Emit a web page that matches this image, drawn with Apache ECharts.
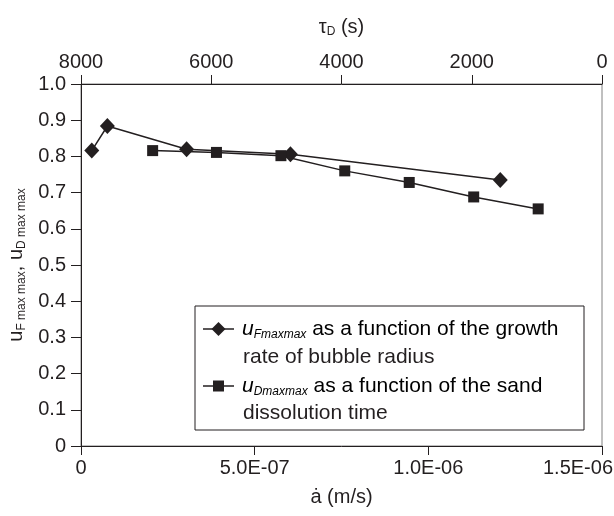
<!DOCTYPE html>
<html>
<head>
<meta charset="utf-8">
<script src="https://cdn.jsdelivr.net/npm/echarts@6/dist/echarts.min.js"></script>
<style>
  html, body { margin: 0; padding: 0; background: #fff; }
  #chart-container { width: 614px; height: 516px; }
</style>
</head>
<body>
<div id="chart-container"></div>
<script>
// growth rate of bubble radius (m/s) -> u_Fmaxmax
const growthRate = [3.1e-8, 7.6e-8, 3.04e-7, 6.03e-7, 1.207e-6];
const uFmaxmax = [0.816, 0.884, 0.820, 0.806, 0.735];

// sand dissolution time tau_D (s) -> u_Dmaxmax
const dissolutionTime = [6900, 5920, 4930, 3950, 2960, 1970, 980];
const uDmaxmax = [0.816, 0.811, 0.802, 0.760, 0.728, 0.688, 0.655];

const legendLines = [
  ['Fmaxmax', ' as a function of the growth', 'rate of bubble radius'],
  ['Dmaxmax', ' as a function of the sand', 'dissolution time']
];

const ink = '#231f20';
const font = 'Liberation Sans, Arial, sans-serif';

function sci(v) {
  if (Math.abs(v) < 1e-12) return '0';
  const parts = v.toExponential(1).split('e');
  const n = parseInt(parts[1], 10);
  const s = parts[0] + 'E' + (n < 0 ? '-' : '+') + String(Math.abs(n)).padStart(2, '0');
  // last label is pulled inside the chart like the original
  return v > 1.4e-6 ? '{last|' + s + '}' : s;
}

const labelStyle = { fontSize: 20, color: ink, fontFamily: font };
const lineStyle = { color: ink, width: 1 };

const dom = document.getElementById('chart-container');
const myChart = echarts.init(dom, null, { renderer: 'canvas' });

const richName = {
  b: { fontSize: 20, color: ink, fontFamily: font },
  s: { fontSize: 12, color: ink, fontFamily: font, padding: [10, 0, 0, 0] },
  i: { fontSize: 21, color: ink, fontFamily: font, fontStyle: 'italic' },
  t: { fontSize: 21, color: ink, fontFamily: font },
  si: { fontSize: 12, color: ink, fontFamily: font, fontStyle: 'italic', padding: [12, 0, 0, 0] }
};

// legend drawn as a boxed block
const boxX = 195, boxY = 306, boxW = 389, boxH = 124;
const rowY = [329, 357, 386, 413];
const legendGraphic = [
  { type: 'rect', shape: { x: boxX, y: boxY, width: boxW, height: boxH },
    style: { fill: '#fff', stroke: ink, lineWidth: 1 }, z: 10 }
];
legendLines.forEach(function (l, k) {
  const y1 = rowY[k * 2], y2 = rowY[k * 2 + 1];
  legendGraphic.push({ type: 'line', shape: { x1: 203, y1: y1, x2: 234, y2: y1 },
    style: { stroke: ink, lineWidth: 1.5 }, z: 11 });
  if (k === 0) {
    legendGraphic.push({ type: 'polygon', shape: { points: [[218.5, y1 - 7], [225.5, y1], [218.5, y1 + 7], [211.5, y1]] },
      style: { fill: ink }, z: 12 });
  } else {
    legendGraphic.push({ type: 'rect', shape: { x: 213, y: y1 - 5.5, width: 11, height: 11 },
      style: { fill: ink }, z: 12 });
  }
  legendGraphic.push({ type: 'text', x: 242, y: y1, z: 12,
    style: { text: '{i|u}{si|' + l[0] + '}{t|' + l[1] + '}', rich: richName, verticalAlign: 'middle', fontFamily: font } });
  legendGraphic.push({ type: 'text', x: 243, y: y2, z: 12,
    style: { text: l[2], fontSize: 21, fill: ink, fontFamily: font, verticalAlign: 'middle' } });
});

const option = {
  animation: false,
  backgroundColor: '#fff',
  grid: {
    left: 81, right: 12, top: 84, bottom: 70, outerBoundsMode: 'none', containLabel: false,
    show: true, borderColor: '#808080', borderWidth: 1
  },
  xAxis: [
    {
      type: 'value', position: 'bottom', min: 0, max: 1.5e-6, interval: 5e-7,
      axisLine: { show: true, lineStyle: lineStyle },
      axisTick: { show: true, length: 9, lineStyle: lineStyle },
      axisLabel: Object.assign({
        margin: 12, formatter: sci,
        rich: { last: { fontSize: 20, color: ink, fontFamily: font, padding: [0, 48, 0, 0] } }
      }, labelStyle),
      splitLine: { show: false },
      name: 'ȧ (m/s)', nameLocation: 'middle', nameGap: 41,
      nameTextStyle: labelStyle
    },
    {
      type: 'value', position: 'top', inverse: true, min: 0, max: 8000, interval: 2000,
      axisLine: { show: true, lineStyle: lineStyle },
      axisTick: { show: true, length: 9, lineStyle: lineStyle },
      axisLabel: Object.assign({ margin: 12, formatter: function (v) { return String(v); } }, labelStyle),
      splitLine: { show: false },
      name: '{b|τ}{s|D}{b| (s)}', nameLocation: 'middle', nameGap: 46,
      nameTextStyle: { rich: richName }
    }
  ],
  yAxis: {
    type: 'value', min: 0, max: 1, interval: 0.1,
    axisLine: { show: true, lineStyle: lineStyle },
    axisTick: { show: true, length: 10, lineStyle: lineStyle },
    axisLabel: Object.assign({ margin: 15, formatter: function (v) { return v === 0 ? '0' : v.toFixed(1); } }, labelStyle),
    splitLine: { show: false },
    name: '{b|u}{s|F max max}{b|, u}{s|D max max}', nameLocation: 'middle', nameGap: 50, nameRotate: 90,
    nameTextStyle: { rich: richName }
  },
  series: [
    {
      name: 'uFmaxmax', type: 'line', xAxisIndex: 0,
      data: growthRate.map(function (x, i) { return [x, uFmaxmax[i]]; }),
      symbol: 'diamond', symbolSize: [15, 16],
      lineStyle: { color: ink, width: 1.5 }, itemStyle: { color: ink }
    },
    {
      name: 'uDmaxmax', type: 'line', xAxisIndex: 1,
      data: dissolutionTime.map(function (x, i) { return [x, uDmaxmax[i]]; }),
      symbol: 'rect', symbolSize: 11,
      lineStyle: { color: ink, width: 1.5 }, itemStyle: { color: ink }
    }
  ],
  graphic: legendGraphic
};

myChart.setOption(option);
</script>
</body>
</html>
